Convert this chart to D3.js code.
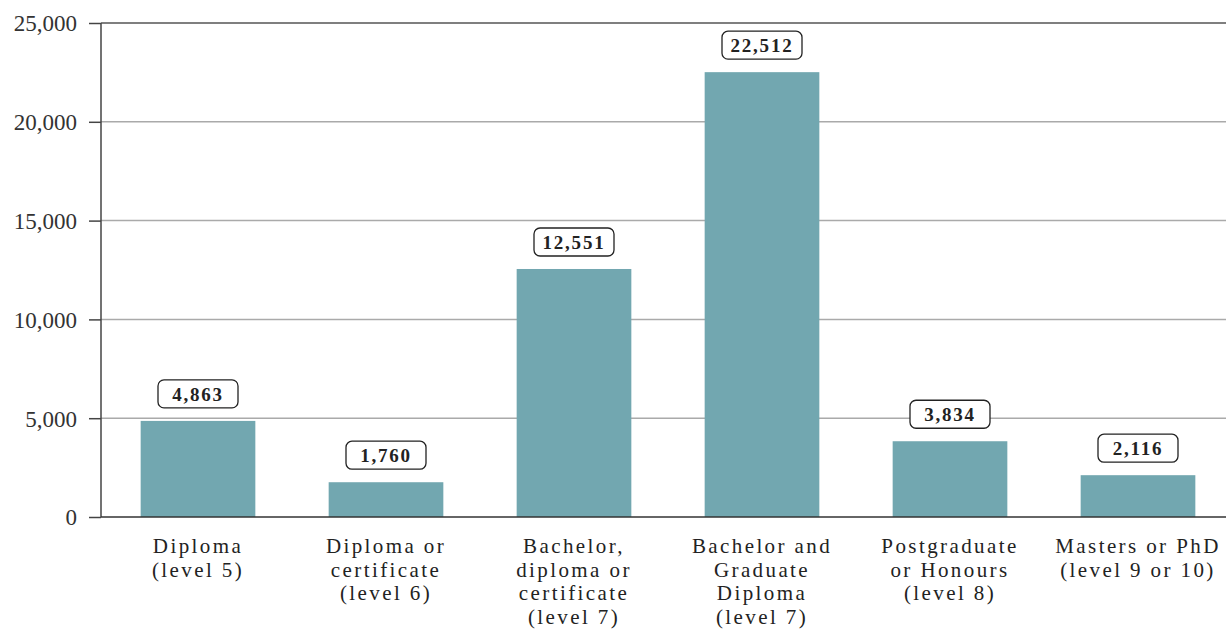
<!DOCTYPE html>
<html>
<head>
<meta charset="utf-8">
<script src="https://cdn.jsdelivr.net/npm/d3@7"></script>
<style>
  body { margin: 0; background: #fff; }
  svg text { font-family: "Liberation Serif", "DejaVu Serif", serif; }
</style>
</head>
<body>
<div id="chart"></div>
<script>
// Data
const categories = [
  ["Diploma", "(level 5)"],
  ["Diploma or", "certificate", "(level 6)"],
  ["Bachelor,", "diploma or", "certificate", "(level 7)"],
  ["Bachelor and", "Graduate", "Diploma", "(level 7)"],
  ["Postgraduate", "or Honours", "(level 8)"],
  ["Masters or PhD", "(level 9 or 10)"]
];
const values = [4863, 1760, 12551, 22512, 3834, 2116];
const yTicks = [0, 5000, 10000, 15000, 20000, 25000];

const W = 1226, H = 631;
const axisX = 101, y0 = 517, yTop = 23;

const svg = d3.select("#chart").append("svg")
  .attr("width", W).attr("height", H);

const y = d3.scaleLinear().domain([0, 25000]).range([y0, yTop]);
const x = d3.scaleBand()
  .domain(d3.range(values.length))
  .range([104, 1232])
  .paddingInner(0.39)
  .paddingOuter(0.195);

const fmt = d3.format(",");

// grid lines
svg.append("g").selectAll("line")
  .data(yTicks.filter(d => d > 0))
  .join("line")
  .attr("x1", axisX).attr("x2", W)
  .attr("y1", d => y(d)).attr("y2", d => y(d))
  .attr("stroke", d => d === 25000 ? "#555" : "#aaa")
  .attr("stroke-width", 1.5);

// y axis
const yAxis = svg.append("g")
  .attr("transform", `translate(${axisX},0)`)
  .call(d3.axisLeft(y).tickValues(yTicks).tickSize(12).tickPadding(12).tickFormat(fmt));
yAxis.select(".domain").attr("stroke", "#444").attr("stroke-width", 1.5)
  .attr("d", `M0,${yTop}V${y0}`);
yAxis.selectAll(".tick line").attr("stroke", "#444").attr("stroke-width", 1.5);
yAxis.selectAll(".tick text")
  .style("font-size", "23px").attr("fill", "#333").attr("dy", "0.34em");

// bars
svg.append("g").selectAll("rect")
  .data(values)
  .join("rect")
  .attr("x", (d, i) => x(i))
  .attr("width", x.bandwidth())
  .attr("y", d => y(d))
  .attr("height", d => y0 - y(d))
  .attr("fill", "#72a7b0");

// baseline
svg.append("line")
  .attr("x1", axisX).attr("x2", W)
  .attr("y1", y0).attr("y2", y0)
  .attr("stroke", "#333").attr("stroke-width", 1.5);

// value labels
const lab = svg.append("g").selectAll("g")
  .data(values)
  .join("g")
  .attr("transform", (d, i) => `translate(${x(i) + x.bandwidth() / 2},${y(d) - 27})`);
lab.append("rect")
  .attr("x", -40).attr("y", -14)
  .attr("width", 80).attr("height", 28)
  .attr("rx", 6)
  .attr("fill", "#fff").attr("stroke", "#222").attr("stroke-width", 1.3);
lab.append("text")
  .attr("text-anchor", "middle")
  .attr("dy", "0.35em")
  .style("font-size", "19px").style("font-weight", "700")
  .style("letter-spacing", "1.8px")
  .attr("fill", "#222")
  .text(d => fmt(d));

// category labels
const cat = svg.append("g").selectAll("text")
  .data(categories)
  .join("text")
  .attr("text-anchor", "middle")
  .attr("x", (d, i) => x(i) + x.bandwidth() / 2)
  .attr("y", 553)
  .style("font-size", "21px")
  .style("letter-spacing", "2.4px")
  .attr("fill", "#222");
cat.selectAll("tspan")
  .data(d => d)
  .join("tspan")
  .attr("x", function () { return this.parentNode.getAttribute("x"); })
  .attr("dy", (d, i) => i === 0 ? 0 : 23.5)
  .text(d => d);
</script>
</body>
</html>
